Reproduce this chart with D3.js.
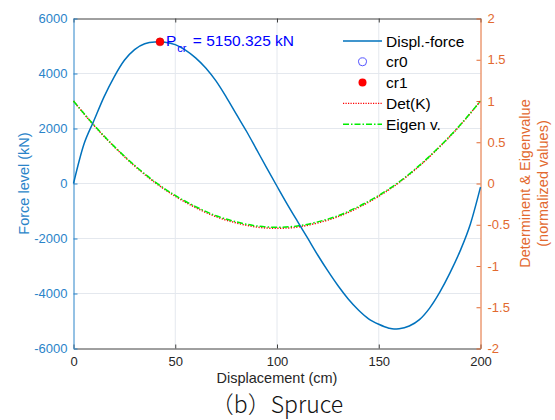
<!DOCTYPE html>
<html>
<head>
<meta charset="utf-8">
<script src="https://d3js.org/d3.v7.min.js"></script>
<style>
  body { margin: 0; background: #fff; }
  svg { font-family: "Liberation Sans", Arial, sans-serif; }
</style>
</head>
<body>
<div id="chart"></div>
<script>
// displacement (cm) for the force curve
let dispX = [0,5,10,15,20,25,30,35,40,42.5,45,50,55,60,65,70,75,80,85,90,95,100,
  105,110,115,120,125,130,135,140,145,150,155,157.5,160,165,170,175,180,185,190,195,200]
// force level (kN)
let forceY = [0,1400,2280,3150,3880,4480,4870,5080,5145,5150,5140,5050,4850,4570,4200,3730,3150,2520,1900,1230,560,-100,
  -750,-1370,-1980,-2600,-3180,-3720,-4200,-4600,-4920,-5120,-5260,-5290,-5280,-5180,-4950,-4530,-3950,-3250,-2450,-1480,-130]

// normalized determinant and eigenvalue
let normX = [0,10,20,30,40,50,60,70,80,90,100,110,120,130,140,150,160,170,180,190,200]
let eigenV = [1.0,0.71,0.45,0.22,0.02,-0.145,-0.28,-0.39,-0.465,-0.515,-0.53,-0.515,-0.465,-0.39,-0.28,-0.145,0.02,0.22,0.45,0.71,1.0]
let detK = [1.0,0.705,0.445,0.213,0.012,-0.155,-0.292,-0.402,-0.478,-0.528,-0.543,-0.528,-0.478,-0.402,-0.292,-0.155,0.012,0.213,0.445,0.705,1.0]

let crit = {x: 42.5, y: 5150.325}

let xTicks = [0,50,100,150,200]
let yTicks = [-6000,-4000,-2000,0,2000,4000,6000]
let y2Ticks = [-2,-1.5,-1,-0.5,0,0.5,1,1.5,2]
let legendNames = ["Displ.-force","cr0","cr1","Det(K)","Eigen v."]

let W = 555, H = 420
let L = 73.5, T = 18.5, pw = 407, ph = 330

let blue = "#0072BD", axisGray = "#404040"
let leftCol = "#2a84c9", rightCol = "#e2692f"

let svg = d3.select("#chart").append("svg")
  .attr("width", W).attr("height", H)

let x = d3.scaleLinear().domain([0,200]).range([L, L+pw])
let y = d3.scaleLinear().domain([-6000,6000]).range([T+ph, T])
let y2 = d3.scaleLinear().domain([-2,2]).range([T+ph, T])

// grid
let grid = svg.append("g").attr("stroke", "#e4e8ee").attr("stroke-width", 1)
grid.selectAll(".gx").data(xTicks.slice(1,-1)).enter().append("line")
  .attr("x1", d => x(d)).attr("x2", d => x(d))
  .attr("y1", T).attr("y2", T+ph)
grid.selectAll(".gy").data(yTicks.slice(1,-1)).enter().append("line")
  .attr("x1", L).attr("x2", L+pw)
  .attr("y1", d => y(d)).attr("y2", d => y(d))

// axes
let xAxis = svg.append("g").attr("transform", `translate(0,${T+ph})`)
  .call(d3.axisBottom(x).tickValues(xTicks).tickSizeInner(-4).tickSizeOuter(0).tickPadding(8))
xAxis.select(".domain").attr("stroke", axisGray)
xAxis.selectAll(".tick line").attr("stroke", axisGray)
xAxis.selectAll("text").attr("fill", "#262626").attr("font-size", 13)

let xTop = svg.append("g").attr("transform", `translate(0,${T})`)
  .call(d3.axisTop(x).tickValues(xTicks).tickSizeInner(-4).tickSizeOuter(0).tickFormat(""))
xTop.select(".domain").attr("stroke", axisGray)
xTop.selectAll(".tick line").attr("stroke", axisGray)

let yAxis = svg.append("g").attr("transform", `translate(${L},0)`)
  .call(d3.axisLeft(y).tickValues(yTicks).tickSizeInner(-4).tickSizeOuter(0).tickPadding(6)
    .tickFormat(d => String(d)))
yAxis.select(".domain").attr("stroke", leftCol)
yAxis.selectAll(".tick line").attr("stroke", leftCol)
yAxis.selectAll("text").attr("fill", leftCol).attr("font-size", 13)

let yAxis2 = svg.append("g").attr("transform", `translate(${L+pw},0)`)
  .call(d3.axisRight(y2).tickValues(y2Ticks).tickSizeInner(-4).tickSizeOuter(0).tickPadding(7)
    .tickFormat(d => String(d)))
yAxis2.select(".domain").attr("stroke", rightCol)
yAxis2.selectAll(".tick line").attr("stroke", rightCol)
yAxis2.selectAll("text").attr("fill", rightCol).attr("font-size", 13)

// curves
let forceLine = d3.line().x((d,i) => x(dispX[i])).y(d => y(d)).curve(d3.curveMonotoneX)
let normLine = d3.line().x((d,i) => x(normX[i])).y(d => y2(d)).curve(d3.curveNatural)

svg.append("path").datum(detK).attr("d", normLine)
  .attr("fill", "none").attr("stroke", "#ff0000").attr("stroke-width", 1.5)
  .attr("stroke-dasharray", "1.2,1.5")
svg.append("path").datum(eigenV).attr("d", normLine)
  .attr("fill", "none").attr("stroke", "#00ee00").attr("stroke-width", 1.5)
  .attr("stroke-dasharray", "6,2,1.5,2")
svg.append("path").datum(forceY).attr("d", forceLine)
  .attr("fill", "none").attr("stroke", blue).attr("stroke-width", 1.5)

svg.append("circle").attr("cx", x(crit.x)).attr("cy", y(crit.y)).attr("r", 4)
  .attr("fill", "#ff0000").attr("stroke", "#cc0000").attr("stroke-width", 0.5)

let ann = svg.append("text").attr("x", x(crit.x) + 6).attr("y", y(crit.y) + 4)
  .attr("fill", "#0000ff").attr("font-size", 15.5)
ann.append("tspan").text("P")
ann.append("tspan").attr("font-size", 11).attr("dy", 6).attr("dx", 1).text("cr")
ann.append("tspan").attr("dy", -6).attr("dx", 2).text(" = " + crit.y.toFixed(3) + " kN")

// legend
let lg = svg.append("g").attr("font-size", 15.5).attr("fill", "#000")
legendNames.forEach((name, i) => {
  let ly = 41 + i * 20.8
  let g = lg.append("g")
  if (i === 0) {
    g.append("line").attr("x1", 343).attr("x2", 382).attr("y1", ly).attr("y2", ly)
      .attr("stroke", blue).attr("stroke-width", 1.5)
  } else if (i === 1) {
    g.append("circle").attr("cx", 362.5).attr("cy", ly).attr("r", 4)
      .attr("fill", "none").attr("stroke", "#5555ff").attr("stroke-width", 1)
  } else if (i === 2) {
    g.append("circle").attr("cx", 362.5).attr("cy", ly).attr("r", 4).attr("fill", "#ff0000")
  } else if (i === 3) {
    g.append("line").attr("x1", 343).attr("x2", 382).attr("y1", ly).attr("y2", ly)
      .attr("stroke", "#ff0000").attr("stroke-width", 1.2).attr("stroke-dasharray", "1.2,1.3")
  } else {
    g.append("line").attr("x1", 343).attr("x2", 382).attr("y1", ly).attr("y2", ly)
      .attr("stroke", "#00ee00").attr("stroke-width", 1.5).attr("stroke-dasharray", "6,2,1.5,2")
  }
  g.append("text").attr("x", 386).attr("y", ly + 5.5).text(name)
})

// labels
svg.append("text").attr("x", L + pw/2).attr("y", 383).attr("text-anchor", "middle")
  .attr("font-size", 14.5).attr("fill", "#262626").text("Displacement (cm)")

svg.append("text").attr("transform", `translate(29,${T + ph/2}) rotate(-90)`)
  .attr("text-anchor", "middle").attr("font-size", 14.5).attr("fill", leftCol)
  .text("Force level (kN)")

let rl = svg.append("text").attr("transform", `translate(530,${T + ph/2}) rotate(-90)`)
  .attr("text-anchor", "middle").attr("font-size", 14.5).attr("fill", rightCol)
rl.append("tspan").attr("x", 0).attr("y", 0).text("Determinent & Eigenvalue")
rl.append("tspan").attr("x", 0).attr("y", 18).text("(normalized values)")

svg.append("text").attr("x", 277).attr("y", 413).attr("text-anchor", "middle")
  .attr("font-family", "'Noto Sans CJK KR', 'Noto Sans', sans-serif")
  .attr("font-size", 23).attr("font-weight", 300).attr("fill", "#111")
  .text("（b）Spruce")
</script>
</body>
</html>
